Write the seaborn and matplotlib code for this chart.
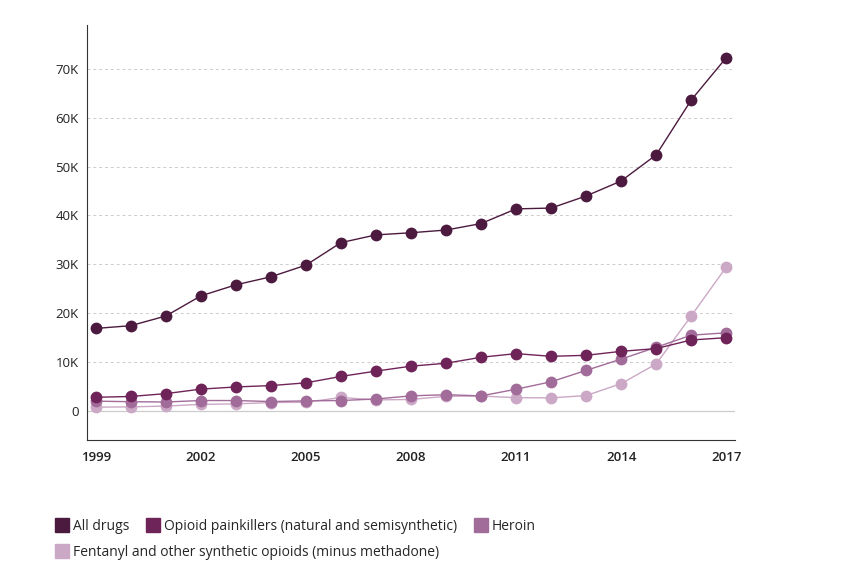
import matplotlib
matplotlib.use("Agg")
import matplotlib.pyplot as plt
import seaborn as sns
import pandas as pd
from matplotlib.lines import Line2D
from matplotlib.ticker import FuncFormatter, MultipleLocator

years = list(range(1999, 2018))
all_drugs = [16849, 17415, 19394, 23518, 25785, 27424, 29813, 34425, 36010, 36450, 37004, 38329, 41340, 41502, 43982, 47055, 52404, 63632, 72306]
painkillers = [2749, 2917, 3497, 4416, 4867, 5144, 5708, 7021, 8109, 9121, 9723, 10943, 11693, 11140, 11346, 12159, 12727, 14487, 14958]
heroin = [1960, 1842, 1779, 2089, 2080, 1878, 2009, 2088, 2399, 3041, 3278, 3036, 4397, 5925, 8257, 10574, 12989, 15469, 15958]
fentanyl = [730, 782, 957, 1295, 1400, 1664, 1742, 2707, 2213, 2306, 2946, 3007, 2666, 2628, 3105, 5544, 9580, 19413, 29406]
names = ["All drugs", "Opioid painkillers (natural and semisynthetic)", "Heroin",
         "Fentanyl and other synthetic opioids (minus methadone)"]
colors = ["#4b1a3e", "#6f2459", "#a26c9a", "#cba8c5"]

sns.set_theme(style="white")
plt.rcParams['font.family'] = ['Open Sans', 'DejaVu Sans']

df = pd.concat([pd.DataFrame({"year": years, "deaths": v, "series": n})
                for v, n in zip([all_drugs, painkillers, heroin, fentanyl], names)])

fig = plt.figure(figsize=(8.56, 5.85), dpi=100)
ax = fig.add_axes([87/856, 1-440/585, (735-87)/856, (440-25)/585])
for n, c in reversed(list(zip(names, colors))):
    sub = df[df.series == n]
    sns.lineplot(data=sub, x="year", y="deaths", color=c, lw=1, marker="o",
                 markersize=8.5, markeredgewidth=0, ax=ax, legend=False)

ax.set_ylim(-6000, 79000)
ax.set_xlim(1998.75, 2017.25)
ax.yaxis.set_major_locator(MultipleLocator(10000))
ax.yaxis.set_major_formatter(FuncFormatter(lambda v, p: "0" if v == 0 else f"{int(v/1000)}K"))
ax.set_xticks(years)
ax.set_xticklabels([str(y) if (y - 1999) % 3 == 0 else "" for y in years], fontweight="semibold")
ax.tick_params(axis="x", length=5, width=0.8, color="#333333", labelsize=9.5, pad=3, labelcolor="#222222")
ax.tick_params(axis="y", length=0, labelsize=9.5, labelcolor="#222222", pad=6)
for y in range(10000, 80000, 10000):
    ax.axhline(y, color="#cccccc", lw=0.7, ls=(0, (3, 3)), zorder=0)
ax.axhline(0, color="#cccccc", lw=0.9, zorder=0)
for s in ["top", "right"]:
    ax.spines[s].set_visible(False)
for s in ["left", "bottom"]:
    ax.spines[s].set_color("#333333")
    ax.spines[s].set_linewidth(0.8)
ax.set_xlabel("")
ax.set_ylabel("")

handles = [Line2D([], [], marker="s", ls="", color=c, markersize=10) for c in colors]
fig.legend(handles[:3], names[:3], loc="upper left", bbox_to_anchor=(48/856, 1-512/585),
           ncol=3, frameon=False, fontsize=10, handletextpad=0.3, columnspacing=1.2,
           borderpad=0, handlelength=1)
fig.legend(handles[3:], names[3:], loc="upper left", bbox_to_anchor=(48/856, 1-538/585),
           ncol=1, frameon=False, fontsize=10, handletextpad=0.3, borderpad=0, handlelength=1)
fig.savefig("out.png", dpi=100)
